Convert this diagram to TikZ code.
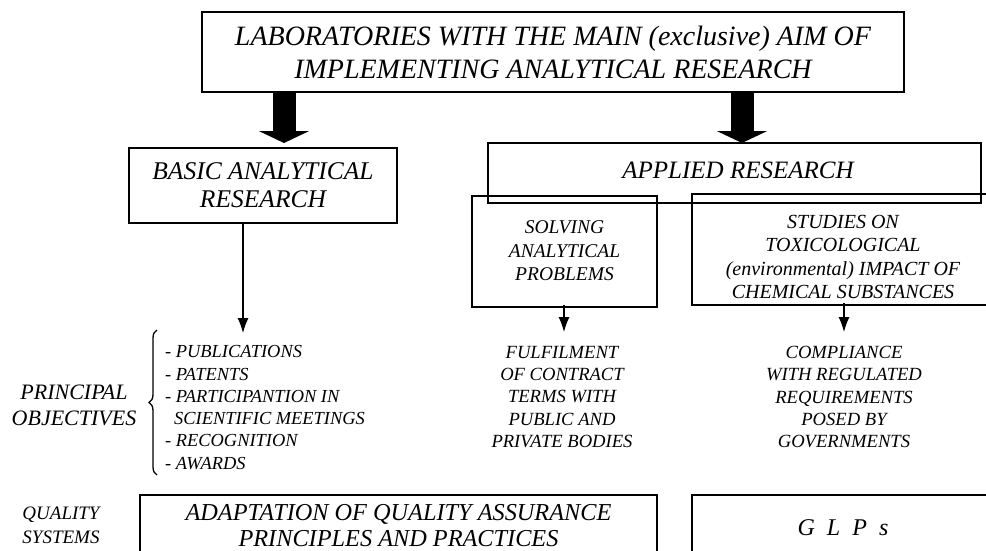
\documentclass[tikz,border=0pt]{standalone}
\usepackage{fontspec}
\setmainfont{Liberation Serif}
\usetikzlibrary{arrows.meta,decorations.pathreplacing}
\tikzset{
	box/.style={draw, line width=2pt, inner sep=0pt, align=center},
	txt/.style={inner sep=0pt, align=center},
	fat/.style={line width=23pt, -{Triangle[length=12pt,width=50pt]}},
	thin/.style={line width=1.2pt, -{Latex[length=15pt,width=11pt]}}
}
\newcommand{\fs}[2]{\fontsize{#1}{#2}\selectfont\itshape}
\begin{document}
\begin{tikzpicture}[x=1pt,y=-1pt]
	\useasboundingbox (0,0) rectangle (986,550);
	\clip (0,0) rectangle (986,550);
	\node[box, minimum width=702pt, minimum height=80pt, font=\fs{28}{33}] (lab) at (553,52) {LABORATORIES WITH THE MAIN (exclusive) AIM OF\\IMPLEMENTING ANALYTICAL RESEARCH};
	\node[box, minimum width=268pt, minimum height=75pt, font=\fs{25.5}{28}] (basic) at (263,185.5) {BASIC ANALYTICAL\\RESEARCH};
	\node[box, minimum width=493pt, minimum height=60pt] (applied) at (734.5,173) {};
	\node[txt, font=\fs{25}{30}] (appliedtext) at (738,170) {APPLIED RESEARCH};
	\node[box, minimum width=185pt, minimum height=111pt, font=\fs{19.5}{23.5}] (solving) at (564.5,251) {SOLVING\\ANALYTICAL\\PROBLEMS};
	\node[box, minimum width=302pt, minimum height=111pt] (studies) at (843,249.5) {};
	\node[txt, font=\fs{20}{23.3}] (studiestext) at (843,257) {STUDIES ON\\TOXICOLOGICAL\\(environmental) IMPACT OF\\CHEMICAL SUBSTANCES};
	\node[txt, anchor=west, align=left, font=\fs{18.4}{22.3}] (goals) at (165,407.5) {- PUBLICATIONS\\- PATENTS\\- PARTICIPANTION IN\\\hspace*{9pt}SCIENTIFIC MEETINGS\\- RECOGNITION\\- AWARDS};
	\node[txt, font=\fs{22}{26}] (principal) at (74,405) {PRINCIPAL\\OBJECTIVES};
	\node[txt, font=\fs{18.6}{22.3}] (fulfil) at (562,397) {FULFILMENT\\OF CONTRACT\\TERMS WITH\\PUBLIC AND\\PRIVATE BODIES};
	\node[txt, font=\fs{18.6}{22.3}] (comply) at (844,397) {COMPLIANCE\\WITH REGULATED\\REQUIREMENTS\\POSED BY\\GOVERNMENTS};
	\node[txt, font=\fs{19}{24}] (quality) at (61,525) {QUALITY\\SYSTEMS};
	\node[box, minimum width=517pt, minimum height=61pt, font=\fs{24.3}{26}] (adapt) at (398.5,525.5) {ADAPTATION OF QUALITY ASSURANCE\\PRINCIPLES AND PRACTICES};
	\node[box, minimum width=302pt, minimum height=66pt, font=\fs{24}{28}] (glp) at (843,528) {G\ \ L\ \ P\ \ s};
	\coordinate (la) at (284,143);
	\coordinate (ra) at (742,143);
	\draw[fat] (lab.south -| la) -- (la);
	\draw[fat] (lab.south -| ra) -- (ra);
	\coordinate (bt) at (243,333);
	\coordinate (st) at (564,332);
	\coordinate (ct) at (844,332);
	\draw[thin] (basic.south -| bt) -- (bt);
	\draw[thin] ([yshift=3pt]solving.south -| st) -- (st);
	\draw[thin] ([yshift=3pt]studies.south -| ct) -- (ct);
	\draw[decorate, decoration={brace, amplitude=8pt}, line width=1.3pt] (157,475) -- (157,330);
\end{tikzpicture}
\end{document}
